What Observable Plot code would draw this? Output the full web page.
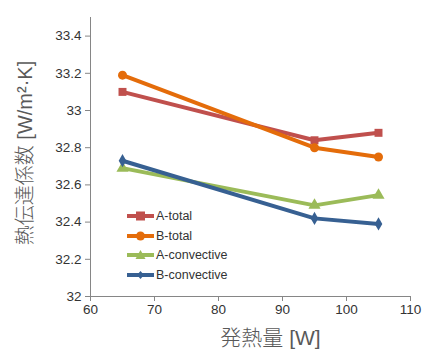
<!DOCTYPE html>
<html><head><meta charset="utf-8">
<script src="https://cdn.jsdelivr.net/npm/d3@7"></script>
<script src="https://cdn.jsdelivr.net/npm/@observablehq/plot@0.6"></script>
<style>
body{margin:0;background:#fff;}
#wrap{position:relative;width:431px;height:352px;font-family:"Liberation Sans",Arial,sans-serif;}
#legend{position:absolute;left:127px;top:206px;font-size:12.5px;color:#333;}
#legend .row{display:flex;align-items:center;height:19.7px;}
#legend svg{margin-right:2px;}
</style></head><body>
<div id="wrap"></div>
<script>
const heat = [65, 95, 105];
const seriesNames = ["A-total", "B-total", "A-convective", "B-convective"];
const aTotal = [33.10, 32.84, 32.88];
const bTotal = [33.19, 32.80, 32.75];
const aConv = [32.69, 32.49, 32.545];
const bConv = [32.73, 32.42, 32.39];
const colors = ["#c0504d", "#e46c0a", "#9bbb59", "#376092"];
const symbols = ["square", "circle", "triangle", "diamond"];
const xTicks = [60, 70, 80, 90, 100, 110];
const yTicks = [32, 32.2, 32.4, 32.6, 32.8, 33, 33.2, 33.4];
const xTitle = "発熱量 [W]";
const yTitle = "熱伝達係数 [W/m²·K]";

const allVals = [aTotal, bTotal, aConv, bConv];
const data = [];
seriesNames.forEach((s, i) => heat.forEach((h, j) => data.push({series: s, x: h, y: allVals[i][j]})));
const colorScale = {domain: seriesNames, range: colors};
const titleFont = '"Liberation Sans", "Noto Sans CJK JP", sans-serif';

const chart = Plot.plot({
  width: 431, height: 352,
  marginLeft: 90, marginRight: 21, marginTop: 17, marginBottom: 56,
  style: {fontFamily: '"Liberation Sans", Arial, sans-serif', fontSize: "13.5px", color: "#595959", background: "#fff"},
  x: {domain: [60, 110]},
  y: {domain: [32, 33.5]},
  color: colorScale,
  symbol: {domain: seriesNames, range: symbols},
  marks: [
    Plot.ruleX([60], {stroke: "#868686", strokeWidth: 1}),
    Plot.ruleY([32], {stroke: "#868686", strokeWidth: 1}),
    Plot.axisX({ticks: xTicks, tickSize: 5, stroke: "#868686", tickPadding: 3, label: null, fill: "#333", tickFormat: d => String(d)}),
    Plot.axisY({ticks: yTicks, tickSize: 5, stroke: "#868686", tickPadding: 4, label: null, fill: "#333", tickFormat: d => String(+d.toFixed(1))}),
    Plot.line(data, {x: "x", y: "y", stroke: "series", z: "series", strokeWidth: 4, strokeLinejoin: "round"}),
    Plot.dot(data.filter(d => d.series !== "B-convective"), {x: "x", y: "y", fill: "series", symbol: "series", r: 4.5, stroke: null}),
    Plot.dot(data.filter(d => d.series === "B-convective"), {x: "x", y: "y", fill: "series", symbol: "series", r: 4, stroke: null}),
    Plot.text([xTitle], {frameAnchor: "bottom", textAnchor: "middle", lineAnchor: "middle", dx: 20, dy: 42, fontSize: 21, fontWeight: 300, fill: "#595959", fontFamily: titleFont}),
    Plot.text([yTitle], {frameAnchor: "left", textAnchor: "middle", lineAnchor: "middle", rotate: -90, dx: -65, dy: -4, fontSize: 20, fontWeight: 300, fill: "#595959", fontFamily: titleFont})
  ]
});
const wrap = document.getElementById("wrap");
wrap.appendChild(chart);

const legend = document.createElement("div");
legend.id = "legend";
const shapes = {
  square: '<rect x="9" y="2.5" width="9" height="9"/>',
  circle: '<circle cx="13.5" cy="7" r="4.5"/>',
  triangle: '<path d="M13.5 2 L18.5 11 L8.5 11 Z"/>',
  diamond: '<path d="M13.5 3 L17 7 L13.5 11 L10 7 Z"/>'
};
seriesNames.forEach((s, i) => {
  const row = document.createElement("div");
  row.className = "row";
  row.innerHTML = `<svg width="27" height="14"><line x1="0" x2="27" y1="7" y2="7" stroke="${colors[i]}" stroke-width="4"/><g fill="${colors[i]}">${shapes[symbols[i]]}</g></svg><span>${s}</span>`;
  legend.appendChild(row);
});
wrap.appendChild(legend);
</script>
</body></html>
